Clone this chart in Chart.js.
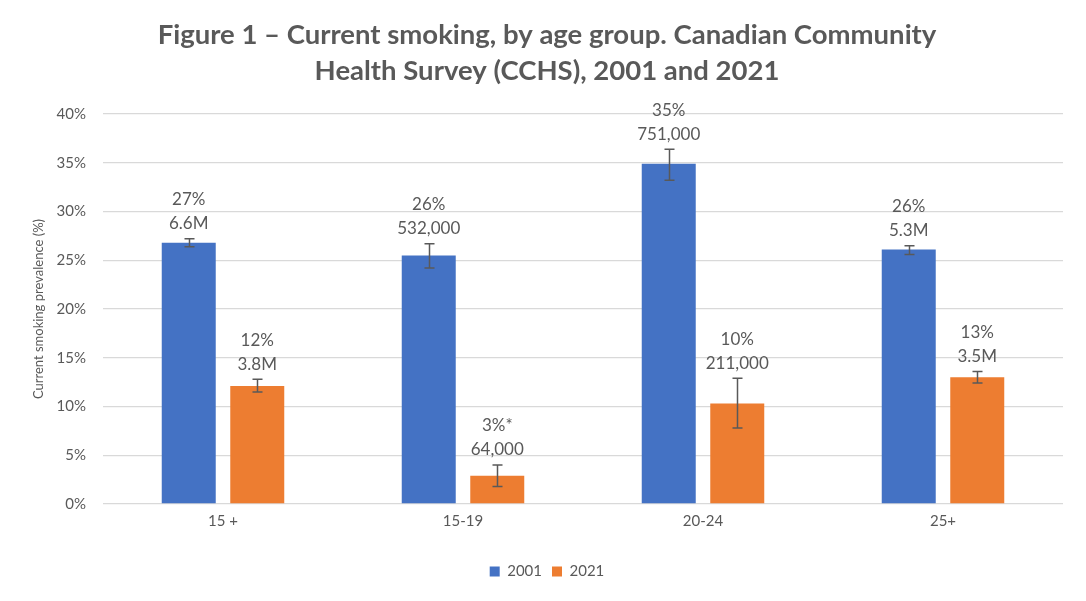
<!DOCTYPE html>
<html>
<head>
<meta charset="utf-8">
<script src="https://cdn.jsdelivr.net/npm/chart.js@4.4.1/dist/chart.umd.min.js"></script>
<style>
  html, body { margin: 0; padding: 0; background: #fff; }
  #wrap { width: 1086px; height: 601px; }
</style>
</head>
<body>
<div id="wrap"><canvas id="smokingChart"></canvas></div>
<script>
// === Daten ===
const AGE_GROUPS = ["15 +", "15-19", "20-24", "25+"];
const PREV_2001 = [26.8, 25.5, 34.9, 26.1];
const PREV_2021 = [12.1, 2.9, 10.3, 13.0];
// Konfidenzintervalle (untere / obere Grenze)
const LOW_2001 = [26.4, 24.2, 33.2, 25.6];
const HIGH_2001 = [27.2, 26.7, 36.4, 26.5];
const LOW_2021 = [11.5, 1.8, 7.8, 12.4];
const HIGH_2021 = [12.8, 4.0, 12.9, 13.6];
// Beschriftungen über den Balken
const PCT_LABELS_2001 = ["27%", "26%", "35%", "26%"];
const COUNT_LABELS_2001 = ["6.6M", "532,000", "751,000", "5.3M"];
const PCT_LABELS_2021 = ["12%", "3%*", "10%", "13%"];
const COUNT_LABELS_2021 = ["3.8M", "64,000", "211,000", "3.5M"];
const Y_MIN = 0;
const Y_MAX = 40;
const Y_STEP = 5;

// === Stil ===
const TEXT_COLOR = "#595959";
const GRID_COLOR = "#d9d9d9";
const FONT = "Lato, 'Open Sans', sans-serif";

const ERRORS = [
  { low: LOW_2001, high: HIGH_2001 },
  { low: LOW_2021, high: HIGH_2021 },
];
const LABELS = [
  { pct: PCT_LABELS_2001, count: COUNT_LABELS_2001 },
  { pct: PCT_LABELS_2021, count: COUNT_LABELS_2021 },
];

// Fehlerbalken zeichnen
const errorBarPlugin = {
  id: "errorBars",
  afterDatasetsDraw(chart) {
    const ctx = chart.ctx;
    const yScale = chart.scales.y;
    ctx.save();
    ctx.strokeStyle = "#595959";
    ctx.lineWidth = 1.5;
    chart.data.datasets.forEach((ds, di) => {
      const meta = chart.getDatasetMeta(di);
      meta.data.forEach((bar, i) => {
        const yHi = yScale.getPixelForValue(ERRORS[di].high[i]);
        const yLo = yScale.getPixelForValue(ERRORS[di].low[i]);
        const x = Math.round(bar.x) + 0.5;
        ctx.beginPath();
        ctx.moveTo(x, yHi);
        ctx.lineTo(x, yLo);
        ctx.moveTo(x - 5, yHi);
        ctx.lineTo(x + 5, yHi);
        ctx.moveTo(x - 5, yLo);
        ctx.lineTo(x + 5, yLo);
        ctx.stroke();
      });
    });
    ctx.restore();
  },
};

// Zwei-zeilige Datenbeschriftung über Balken + Fehlerbalken
const valueLabelPlugin = {
  id: "valueLabels",
  afterDatasetsDraw(chart) {
    const ctx = chart.ctx;
    const yScale = chart.scales.y;
    ctx.save();
    ctx.fillStyle = TEXT_COLOR;
    ctx.font = "17px " + FONT;
    ctx.textAlign = "center";
    ctx.textBaseline = "middle";
    chart.data.datasets.forEach((ds, di) => {
      const meta = chart.getDatasetMeta(di);
      meta.data.forEach((bar, i) => {
        const top = Math.min(bar.y, yScale.getPixelForValue(ERRORS[di].high[i]));
        ctx.fillText(LABELS[di].count[i], bar.x, top - 15);
        ctx.fillText(LABELS[di].pct[i], bar.x, top - 39);
      });
    });
    ctx.restore();
  },
};

const ctx = document.getElementById("smokingChart").getContext("2d");

new Chart(ctx, {
  type: "bar",
  data: {
    labels: AGE_GROUPS,
    datasets: [
      {
        label: "2001",
        data: PREV_2001,
        backgroundColor: "#4472c4",
        categoryPercentage: 0.571,
        barPercentage: 0.788,
      },
      {
        label: "2021",
        data: PREV_2021,
        backgroundColor: "#ed7d31",
        categoryPercentage: 0.571,
        barPercentage: 0.788,
      },
    ],
  },
  options: {
    responsive: true,
    maintainAspectRatio: false,
    animation: false,
    layout: {
      padding: { top: 17, left: 31, right: 23, bottom: 12 },
    },
    scales: {
      x: {
        grid: { display: false, drawTicks: false },
        border: { display: false },
        ticks: {
          color: TEXT_COLOR,
          font: { family: FONT, size: 15 },
          padding: 8,
        },
        afterFit(scale) {
          scale.height = 50;
        },
      },
      y: {
        min: Y_MIN,
        max: Y_MAX,
        grid: { color: GRID_COLOR, lineWidth: 1.3, drawTicks: false },
        border: { display: false },
        ticks: {
          stepSize: Y_STEP,
          color: TEXT_COLOR,
          font: { family: FONT, size: 15 },
          padding: 17,
          callback: (v) => v + "%",
        },
        title: {
          display: true,
          text: "Current smoking prevalence (%)",
          color: TEXT_COLOR,
          font: { family: FONT, size: 13 },
          padding: { top: 0, bottom: 0 },
        },
        afterFit(scale) {
          scale.width = 72;
        },
      },
    },
    plugins: {
      title: {
        display: true,
        text: [
          "Figure 1 – Current smoking, by age group. Canadian Community",
          "Health Survey (CCHS), 2001 and 2021",
        ],
        color: TEXT_COLOR,
        font: { family: FONT, size: 27.5, weight: "bold", lineHeight: 1.31 },
        padding: { top: 0, bottom: 25 },
      },
      legend: {
        position: "bottom",
        labels: {
          color: TEXT_COLOR,
          font: { family: FONT, size: 15 },
          boxWidth: 10,
          boxHeight: 10,
          padding: 10,
        },
      },
      tooltip: { enabled: false },
    },
  },
  plugins: [errorBarPlugin, valueLabelPlugin],
});
</script>
</body>
</html>
